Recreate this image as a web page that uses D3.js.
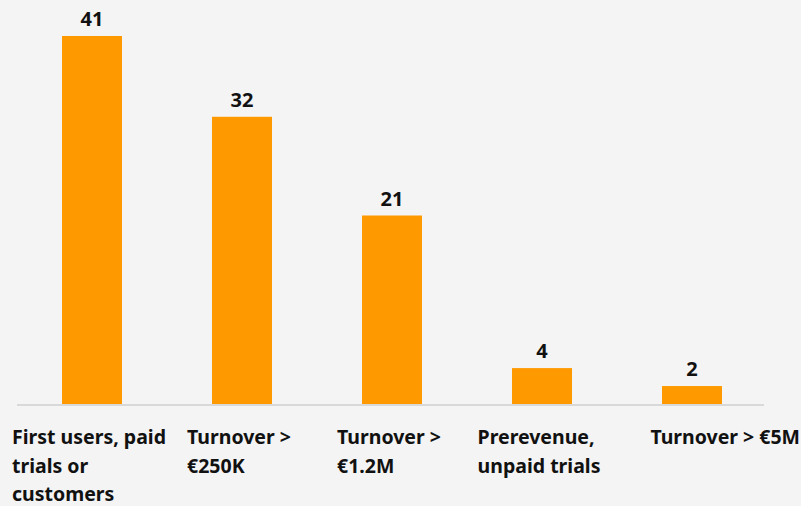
<!doctype html>
<html lang="en">
  <head>
    <meta charset="utf-8">
    <title>stage</title>
    <style>
      * { margin: 0; border: 0; padding: 0; }
      body { background-color: #f4f4f4; }
      text { font-family: 'Noto Sans', sans-serif; font-weight: 700; fill: #111; }
    </style>
  </head>
  <body>
    <div id="plot"></div>

<script src="https://d3js.org/d3.v7.min.js"></script>
<script>

  // categories, wrapped the way the original wraps them
  var categories = [
    "First users, paid\ntrials or\ncustomers",
    "Turnover >\n€250K",
    "Turnover >\n€1.2M",
    "Prerevenue,\nunpaid trials",
    "Turnover > €5M"
  ];
  var values = [41, 32, 21, 4, 2];

  var width  = 801;
  var height = 506;

  var svg = d3.select("#plot").append("svg").attr("width", width).attr("height", height);

  var xscale = d3.scaleBand().domain(categories).range([17, 767]).paddingInner(0.6).paddingOuter(0.3);
  var yscale = d3.scaleLinear().domain([0, 41]).range([404, 36]);

  // baseline
  svg.append("line")
    .attr("x1", 17).attr("x2", 764)
    .attr("y1", yscale(0) + 1).attr("y2", yscale(0) + 1)
    .style("stroke", "#d9d9d9").style("stroke-width", 2);

  svg.selectAll("rect.bar").data(values).enter().append("rect")
    .attr("class", "bar")
    .attr("x", (d, i) => xscale(categories[i]))
    .attr("width", xscale.bandwidth())
    .attr("y", d => yscale(d))
    .attr("height", d => yscale(0) - yscale(d))
    .style("fill", "#ff9900");

  svg.selectAll("text.val").data(values).enter().append("text")
    .attr("class", "val")
    .attr("x", (d, i) => xscale(categories[i]) + xscale.bandwidth() / 2)
    .attr("y", d => yscale(d) - 10)
    .attr("text-anchor", "middle")
    .style("font-size", "20px")
    .text(d => d);

  // category labels: lines left-aligned, block centred on the bar;
  // the last one is pushed against the right edge like in the original
  categories.forEach(function(c, i) {
    var g = svg.append("text").style("font-size", "19.5px");
    c.split("\n").forEach(function(line, j) {
      g.append("tspan").attr("y", 444 + j * 28.5).text(line);
    });
    var w = d3.max(g.selectAll("tspan").nodes(), n => n.getComputedTextLength());
    var cx = xscale(c) + xscale.bandwidth() / 2;
    var left = Math.max(9, cx - w / 2 - 3);
    if (i == categories.length - 1) left = width - 1 - w;
    g.selectAll("tspan").attr("x", left);
  });

</script>
  </body>
</html>
